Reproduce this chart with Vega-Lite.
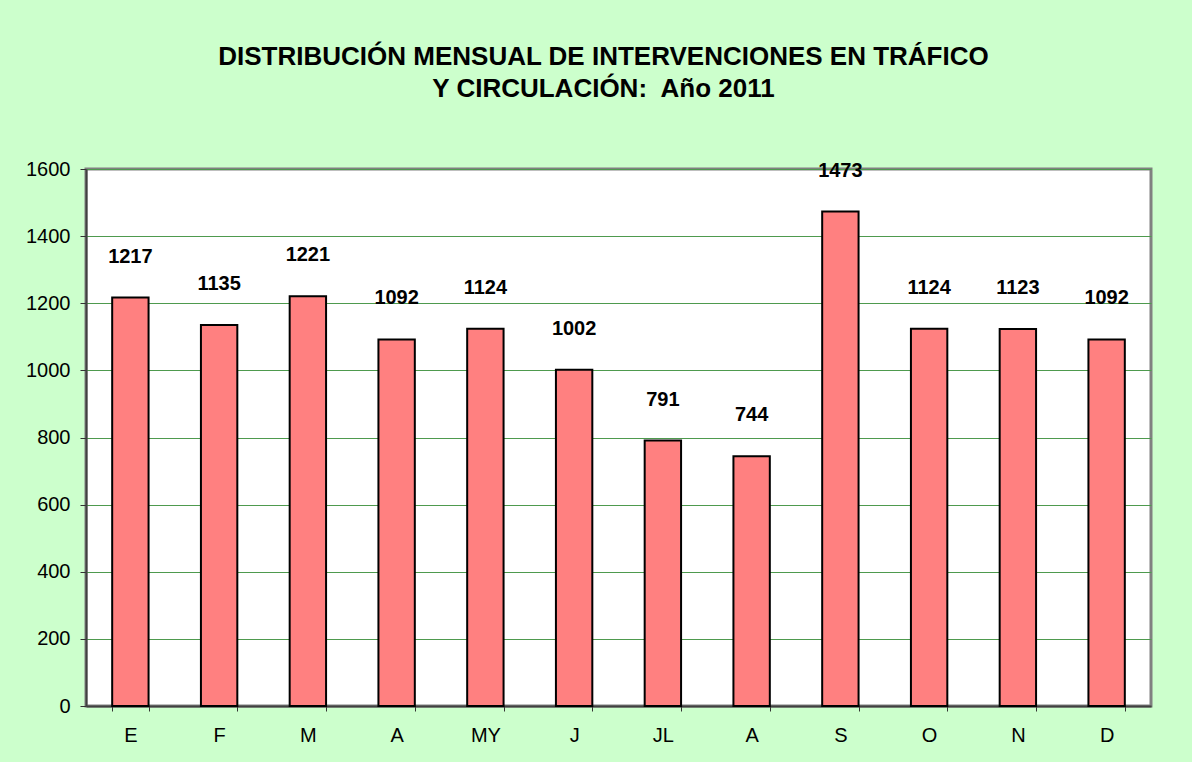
{
  "$schema": "https://vega.github.io/schema/vega-lite/v6.json",
  "width": 1065,
  "height": 537,
  "autosize": "none",
  "padding": {"left": 86, "top": 169, "right": 41, "bottom": 56},
  "background": "#CCFFCC",
  "title": {
    "text": ["DISTRIBUCIÓN MENSUAL DE INTERVENCIONES EN TRÁFICO", "Y CIRCULACIÓN:\u00a0 Año 2011"],
    "font": "Liberation Sans",
    "fontSize": 26,
    "fontWeight": "bold",
    "color": "black",
    "anchor": "middle",
    "dx": -15,
    "lineHeight": 32,
    "offset": 57
  },
  "data": {
    "values": [
      {"mes": "E", "valor": 1217},
      {"mes": "F", "valor": 1135},
      {"mes": "M", "valor": 1221},
      {"mes": "A", "valor": 1092},
      {"mes": "MY", "valor": 1124},
      {"mes": "J", "valor": 1002},
      {"mes": "JL", "valor": 791},
      {"mes": "AG", "valor": 744},
      {"mes": "S", "valor": 1473},
      {"mes": "O", "valor": 1124},
      {"mes": "N", "valor": 1123},
      {"mes": "D", "valor": 1092}
    ]
  },
  "encoding": {
    "x": {
      "field": "mes",
      "type": "nominal",
      "sort": null,
      "scale": {"paddingInner": 0.59, "paddingOuter": 0.295},
      "axis": {
        "title": null,
        "labelAngle": 0,
        "labelExpr": "datum.value == 'AG' ? 'A' : datum.value",
        "labelFont": "Liberation Sans",
        "labelFontSize": 20,
        "labelColor": "black",
        "labelPadding": 14,
        "tickBand": "extent",
        "tickSize": 5,
        "tickColor": "#333333",
        "domainColor": "#404040",
        "domainWidth": 2
      }
    },
    "y": {
      "field": "valor",
      "type": "quantitative",
      "scale": {"domain": [0, 1600], "nice": false},
      "axis": {
        "title": null,
        "format": "d",
        "values": [0, 200, 400, 600, 800, 1000, 1200, 1400, 1600],
        "labelFont": "Liberation Sans",
        "labelFontSize": 20,
        "labelColor": "black",
        "labelPadding": 10,
        "tickSize": 6,
        "tickColor": "#333333",
        "domainColor": "#404040",
        "domainWidth": 2,
        "grid": true,
        "gridColor": "#4E9A4E",
        "gridWidth": 1
      }
    }
  },
  "layer": [
    {
      "mark": {"type": "bar", "color": "#FF8080", "stroke": "black", "strokeWidth": 2}
    },
    {
      "mark": {
        "type": "text",
        "baseline": "middle",
        "align": "center",
        "dy": -41,
        "font": "Liberation Sans",
        "fontSize": 20,
        "fontWeight": "bold",
        "color": "black"
      },
      "encoding": {"text": {"field": "valor", "type": "quantitative", "format": "d"}}
    }
  ],
  "config": {
    "view": {"fill": "white", "stroke": "#808080", "strokeWidth": 3}
  }
}
